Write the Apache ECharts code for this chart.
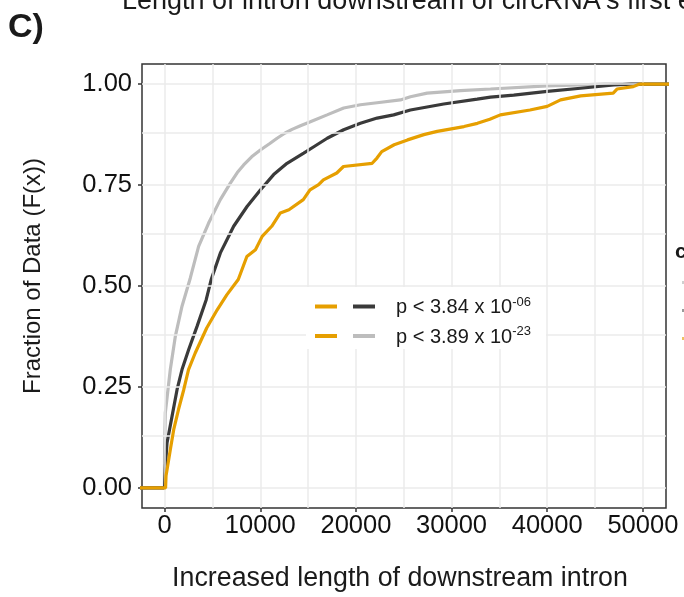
<!DOCTYPE html>
<html><head><meta charset="utf-8">
<script src="https://cdn.jsdelivr.net/npm/echarts@6/dist/echarts.min.js"></script>
<style>html,body{margin:0;padding:0;background:#fff}#c{width:684px;height:597px}</style>
</head><body><div id="c"></div>
<script>
// ---- axis ticks / grid ----
const xTicks = [0, 10000, 20000, 30000, 40000, 50000];
const xMinor = [5000, 15000, 25000, 35000, 45000];
const yTicks = [0, 0.25, 0.5, 0.75, 1];
const yMinor = [0.125, 0.375, 0.625, 0.875];

// ---- ECDF curves ----
const orangeX = [-3000, 100, 150, 600, 950, 1450, 2000, 2500, 3200, 4400, 5500, 6500, 7700, 8600, 9500, 10200, 11200, 12100, 13000, 14500, 15200, 16100, 16600, 18000, 18700, 21700, 22200, 22700, 24000, 25400, 27100, 28500, 31300, 32700, 34000, 35100, 38200, 40000, 41400, 43500, 46900, 47300, 49000, 49600, 56000];
const orangeF = [0, 0, 0.03, 0.095, 0.144, 0.194, 0.243, 0.293, 0.334, 0.396, 0.441, 0.478, 0.516, 0.573, 0.590, 0.623, 0.648, 0.681, 0.689, 0.714, 0.738, 0.751, 0.763, 0.780, 0.796, 0.804, 0.817, 0.833, 0.850, 0.862, 0.875, 0.883, 0.895, 0.903, 0.913, 0.924, 0.936, 0.945, 0.961, 0.971, 0.978, 0.988, 0.994, 1.0, 1.0];

const darkX = [-3000, 0, 100, 250, 775, 1300, 1820, 2510, 3390, 4350, 4870, 5830, 7220, 8620, 10010, 11400, 12800, 14540, 15600, 17000, 18720, 20470, 22220, 23950, 25700, 29180, 32680, 34070, 36500, 40000, 43480, 46970, 48800, 56000];
const darkF = [0, 0, 0.06, 0.111, 0.177, 0.243, 0.293, 0.342, 0.400, 0.466, 0.516, 0.582, 0.648, 0.697, 0.738, 0.776, 0.804, 0.829, 0.845, 0.866, 0.887, 0.903, 0.916, 0.924, 0.936, 0.951, 0.963, 0.968, 0.973, 0.982, 0.990, 0.998, 1.0, 1.0];

const lightX = [-3000, -20, 0, 73, 596, 1119, 1820, 2688, 3556, 4602, 5826, 6872, 7600, 8264, 9100, 10010, 11000, 11757, 12600, 13326, 14200, 15241, 16987, 18724, 20471, 22218, 24655, 25701, 27448, 30931, 34069, 40000, 46000, 56000];
const lightF = [0, 0, 0.1, 0.186, 0.293, 0.375, 0.450, 0.520, 0.598, 0.656, 0.714, 0.755, 0.781, 0.800, 0.820, 0.837, 0.853, 0.866, 0.879, 0.888, 0.897, 0.907, 0.924, 0.941, 0.949, 0.954, 0.961, 0.969, 0.978, 0.984, 0.988, 0.996, 1.0, 1.0];

const legendRows = [
  {colors: ['#E69F00', '#3A3A3A'], base: 'p < 3.84 x 10', sup: '-06'},
  {colors: ['#E69F00', '#BDBDBD'], base: 'p < 3.89 x 10', sup: '-23'}
];

const FONT = '"Liberation Sans", Arial, Helvetica, sans-serif';
const zip = (xs, ys) => xs.map((x, i) => [x, ys[i]]);

const chart = echarts.init(document.getElementById('c'), null, {renderer: 'canvas'});

const gridLineData = []
  .concat(xTicks.map(v => ({xAxis: v})))
  .concat(xMinor.map(v => ({xAxis: v})))
  .concat(yTicks.map(v => ({yAxis: v})))
  .concat(yMinor.map(v => ({yAxis: v})));

const legendGraphics = [
  {type: 'rect', z: 50, shape: {x: 306, y: 287, width: 240, height: 62}, style: {fill: '#fff'}, silent: true}
];
legendRows.forEach((r, i) => {
  const y = 306.5 + i * 29.5;
  legendGraphics.push({type: 'rect', z: 51, shape: {x: 315, y: y - 2, width: 22, height: 4}, style: {fill: r.colors[0]}, silent: true});
  legendGraphics.push({type: 'rect', z: 51, shape: {x: 353, y: y - 2, width: 22, height: 4}, style: {fill: r.colors[1]}, silent: true});
  legendGraphics.push({type: 'text', z: 51, x: 396, y: y, style: {
    text: '{b|' + r.base + '}{s|' + r.sup + '}',
    verticalAlign: 'middle', align: 'left',
    rich: {
      b: {fontFamily: FONT, fontSize: 20, fill: '#1a1a1a', lineHeight: 22, verticalAlign: 'bottom'},
      s: {fontFamily: FONT, fontSize: 13, fill: '#1a1a1a', lineHeight: 22, verticalAlign: 'top'}
    }
  }, silent: true});
});

chart.setOption({
  animation: false,
  backgroundColor: '#fff',
  grid: {left: 142, right: 18, top: 64, bottom: 89, show: true, borderColor: '#333', borderWidth: 1.5, backgroundColor: '#fff', containLabel: false},
  xAxis: {
    type: 'value', min: -2364, max: 52420, position: 'bottom',
    axisLine: {show: false, onZero: false},
    splitLine: {show: false},
    axisTick: {show: true, customValues: xTicks, length: 4, lineStyle: {color: '#333', width: 1.5}},
    axisLabel: {customValues: xTicks, formatter: v => String(v), fontFamily: FONT, fontSize: 25.5, color: '#111', margin: 5}
  },
  yAxis: {
    type: 'value', min: -0.05, max: 1.05, position: 'left',
    axisLine: {show: false, onZero: false},
    splitLine: {show: false},
    axisTick: {show: true, customValues: yTicks, length: 4, lineStyle: {color: '#333', width: 1.5}},
    axisLabel: {customValues: yTicks, formatter: v => v.toFixed(2), fontFamily: FONT, fontSize: 25.5, color: '#111', margin: 10}
  },
  series: [
    {type: 'line', z: 1, data: [[-9999, -9]], showSymbol: false, silent: true, lineStyle: {width: 0},
     markLine: {silent: true, symbol: ['none', 'none'], label: {show: false}, animation: false,
       lineStyle: {color: '#EBEBEB', width: 1.5, type: 'solid', opacity: 1}, emphasis: {disabled: true},
       data: gridLineData}},
    {name: 'light', type: 'line', z: 3, data: zip(lightX, lightF), showSymbol: false, lineStyle: {color: '#BDBDBD', width: 3.2}, silent: true},
    {name: 'dark', type: 'line', z: 4, data: zip(darkX, darkF), showSymbol: false, lineStyle: {color: '#3A3A3A', width: 3.2}, silent: true},
    {name: 'orange', type: 'line', z: 5, data: zip(orangeX, orangeF), showSymbol: false, lineStyle: {color: '#E69F00', width: 3.2}, silent: true}
  ],
  graphic: [
    {type: 'text', z: 50, x: 8, y: 28, style: {text: 'C)', fontFamily: FONT, fontSize: 34, fontWeight: 'bold', fill: '#1a1a1a', verticalAlign: 'middle'}},
    {type: 'text', z: 50, x: 122, y: 2, style: {text: "Length of intron downstream of circRNA's first exon", fontFamily: FONT, fontSize: 27, fill: '#1a1a1a', verticalAlign: 'middle'}},
    {type: 'text', z: 50, x: 33, y: 276, rotation: Math.PI / 2, style: {text: 'Fraction of Data (F(x))', fontFamily: FONT, fontSize: 24, fill: '#1a1a1a', align: 'center', verticalAlign: 'middle'}},
    {type: 'text', z: 50, x: 400, y: 579, style: {text: 'Increased length of downstream intron', fontFamily: FONT, fontSize: 26.8, fill: '#1a1a1a', align: 'center', verticalAlign: 'middle'}},
    {type: 'text', z: 50, x: 675, y: 252, style: {text: 'circRNA', fontFamily: FONT, fontSize: 21, fontWeight: 'bold', fill: '#1a1a1a', verticalAlign: 'middle'}},
    {type: 'rect', z: 50, shape: {x: 682, y: 281, width: 10, height: 3}, style: {fill: '#D0D0D0'}},
    {type: 'rect', z: 50, shape: {x: 682, y: 309, width: 10, height: 3}, style: {fill: '#9A9A9A'}},
    {type: 'rect', z: 50, shape: {x: 682, y: 337, width: 10, height: 3}, style: {fill: '#F0C060'}}
  ].concat(legendGraphics)
});
</script></body></html>
